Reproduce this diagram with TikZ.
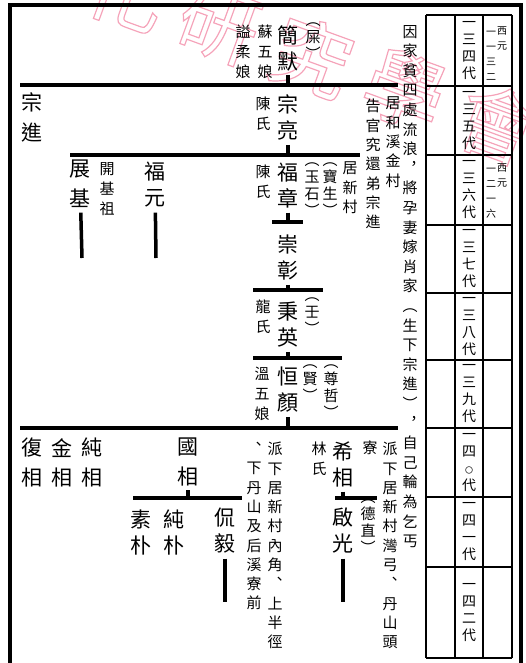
\documentclass[tikz,border=0pt]{standalone}
\usepackage{fontspec}
\newfontfamily\hanfont{Noto Sans CJK TC}
\XeTeXuseglyphmetrics=1
\newcommand\lingzero{{\fontsize{8}{8}\selectfont 〇}}
\newcommand\hollow[1]{\special{pdf:literal direct 1 Tr 1.2 w}#1\special{pdf:literal direct 0 Tr}}
\definecolor{stamp}{RGB}{242,140,168}
\tikzset{
  person/.style={font=\hanfont\fontsize{21}{26}\selectfont,align=center,inner sep=0pt,anchor=north},
  personwide/.style={person,font=\hanfont\fontsize{21}{29.5}\selectfont},
  spouse/.style={font=\hanfont\fontsize{15}{20}\selectfont,align=center,inner sep=0pt,anchor=north},
  remark/.style={font=\hanfont\fontsize{15}{19.3}\selectfont,align=center,inner sep=0pt,anchor=north},
  alias/.style={font=\hanfont\fontsize{15}{17}\selectfont,align=center,inner sep=0pt,anchor=north},
  gencol/.style={font=\hanfont\fontsize{14}{17}\selectfont,align=center,inner sep=0pt},
  yearcol/.style={font=\hanfont\fontsize{10}{15}\selectfont,align=center,inner sep=0pt,anchor=north},
  watermark/.style={font=\hanfont\fontsize{80}{80}\selectfont,text=stamp,text opacity=0.8,inner sep=0pt,rotate=-20},
  kin/.style={line width=3.5pt},
  tbl/.style={line width=2pt},
}

\begin{document}
\begin{tikzpicture}[x=1pt,y=-1pt]
  \useasboundingbox (0,0) rectangle (526,663);
  \begin{scope}
    \clip (0,0) rectangle (526,663);
    \foreach \c/\x/\y [count=\i] in {化/128/-8,研/219/25,究/312/57,學/405/90,會/498/124}
      \node[watermark] (mark\i) at (\x,\y) {\hollow{\c}};
  \end{scope}
  \draw[line width=3.5pt] (10,663) -- (10,5) -- (521,5) -- (521,663);

  \foreach \x in {426,455,483,512}
    \draw[tbl] (\x,15) -- (\x,658);
  \foreach \y in {15,86,155,225,293,360,428,497,567,658}
    \draw[tbl] (426,\y) -- (512,\y);
  \foreach \y/\a/\b [count=\i] in {50.5/三/四,120.5/三/五,190/三/六,259/三/七,326.5/三/八,394/三/九,462.5/四/\lingzero,532/四/一,612.5/四/二}
    \node[gencol] (gen\i) at (469,\y) {一\\\a\\\b\\代};
  \node[yearcol] (yeara) at (502,27) {西\\元};
  \node[yearcol] (yearb) at (491,31) {一\\一\\三\\二};
  \node[yearcol] (yearc) at (502,164) {西\\元};
  \node[yearcol] (yeard) at (491,168) {一\\二\\一\\六};

  \coordinate (g1w) at (20,85);   \coordinate (g1e) at (398,85);
  \coordinate (g2w) at (70,155);  \coordinate (g2e) at (360,155);
  \coordinate (g3w) at (272,222); \coordinate (g3e) at (303,222);
  \coordinate (g4w) at (253,290); \coordinate (g4e) at (323,290);
  \coordinate (g5w) at (253,358); \coordinate (g5e) at (342,358);
  \coordinate (g6w) at (20,428);  \coordinate (g6e) at (398,428);
  \coordinate (g7w) at (133,498); \coordinate (g7e) at (242,498);
  \coordinate (g8w) at (335,498); \coordinate (g8e) at (377,498);
  \foreach \g in {1,...,8}
    \draw[kin] (g\g w) -- (g\g e);

  \node[person] (jianmo) at (288,25) {簡\\默};
  \node[alias] (jianmoalt) at (313,23) {︵\\屎\\︶};
  \node[spouse] (suwuniang) at (265,25) {蘇\\五\\娘};
  \node[spouse] (shirou) at (243,25) {謚\\柔\\娘};
  \node[remark,font=\hanfont\fontsize{15}{19.6}\selectfont] (story) at (410,25)
    {因\\家\\貧\\四\\處\\流\\浪\\︐\\將\\孕\\妻\\嫁\\肖\\家\\︵\\生\\下\\宗\\進\\︶\\︐\\自\\己\\輪\\為\\乞\\丐};

  \node[personwide] (zongjin) at (32,93) {宗\\進};
  \node[person] (zongliang) at (288,95) {宗\\亮};
  \node[spouse] (chena) at (263,97) {陳\\氏};
  \node[remark] (hexi) at (393,97) {居\\和\\溪\\金\\村};
  \node[remark] (gaoguan) at (373,99) {告\\官\\究\\還\\弟\\宗\\進};

  \node[personwide] (zhanji) at (80,160) {展\\基};
  \node[spouse] (kaiji) at (107,162) {開\\基\\祖};
  \node[person] (fuyuan) at (155,162) {福\\元};
  \node[person] (fuzhang) at (288,163) {福\\章};
  \node[spouse] (chenb) at (263,165) {陳\\氏};
  \node[alias] (yushi) at (312,163) {︵\\玉\\石\\︶};
  \node[alias] (baosheng) at (330,163) {︵\\寶\\生\\︶};
  \node[remark] (xincun) at (350,162) {居\\新\\村};

  \node[person] (chongzhang) at (288,235) {崇\\彰};

  \node[person] (bingying) at (288,302) {秉\\英};
  \node[spouse] (longshi) at (263,300) {龍\\氏};
  \node[alias] (ren) at (312,298) {︵\\壬\\︶};

  \node[person] (hengyan) at (288,367) {恒\\顏};
  \node[spouse] (wenwuniang) at (262,367) {溫\\五\\娘};
  \node[alias] (xian) at (310,365) {︵\\賢\\︶};
  \node[alias] (zunzhe) at (331,365) {︵\\尊\\哲\\︶};

  \node[personwide] (fuxiang) at (32,438) {復\\相};
  \node[personwide] (jinxiang) at (62,438) {金\\相};
  \node[personwide] (chunxiang) at (92,438) {純\\相};
  \node[personwide] (guoxiang) at (188,438) {國\\相};
  \node[remark] (neijiao) at (275,442) {派\\下\\居\\新\\村\\內\\角\\︑\\上\\半\\徑};
  \node[remark] (danshan) at (254,442) {︑\\下\\丹\\山\\及\\后\\溪\\寮\\前};
  \node[spouse] (linshi) at (319,442) {林\\氏};
  \node[person] (xixiang) at (343,442) {希\\相};
  \node[remark] (liao) at (370,441) {寮};
  \node[remark] (wangong) at (390,442) {派\\下\\居\\新\\村\\灣\\弓\\︑\\丹\\山\\頭};

  \node[person] (supu) at (141,510) {素\\朴};
  \node[person] (chunpu) at (174,510) {純\\朴};
  \node[person] (kanyi) at (225,508) {侃\\毅};
  \node[person] (qiguang) at (343,508) {啟\\光};
  \node[alias] (dezhi) at (368,500) {︵\\德\\直\\︶};

  \coordinate (zhanjiend) at (82,258);
  \coordinate (fuyuanend) at (156,258);
  \coordinate (kanyiend) at (225,602);
  \coordinate (qiguangend) at (343,602);

  \draw[kin,shorten <=4pt] (jianmo) -- (jianmo |- g1w);
  \draw[kin,shorten <=4pt] (zongliang) -- (zongliang |- g2w);
  \draw[kin,shorten <=4pt] (fuzhang) -- (fuzhang |- g3w);
  \draw[kin,shorten <=4pt] (chongzhang) -- (chongzhang |- g4w);
  \draw[kin,shorten <=4pt] (bingying) -- (bingying |- g5w);
  \draw[kin,shorten <=4pt] (hengyan) -- (hengyan |- g6w);
  \draw[kin,shorten <=4pt] (guoxiang) -- (guoxiang |- g7w);
  \draw[kin,shorten <=4pt] (xixiang) -- (xixiang |- g8w);
  \draw[kin,shorten <=5pt] (zhanji) -- (zhanjiend);
  \draw[kin,shorten <=5pt] (fuyuan) -- (fuyuanend);
  \draw[kin,shorten <=5pt] (kanyi) -- (kanyiend);
  \draw[kin,shorten <=5pt] (qiguang) -- (qiguangend);
\end{tikzpicture}
\end{document}
